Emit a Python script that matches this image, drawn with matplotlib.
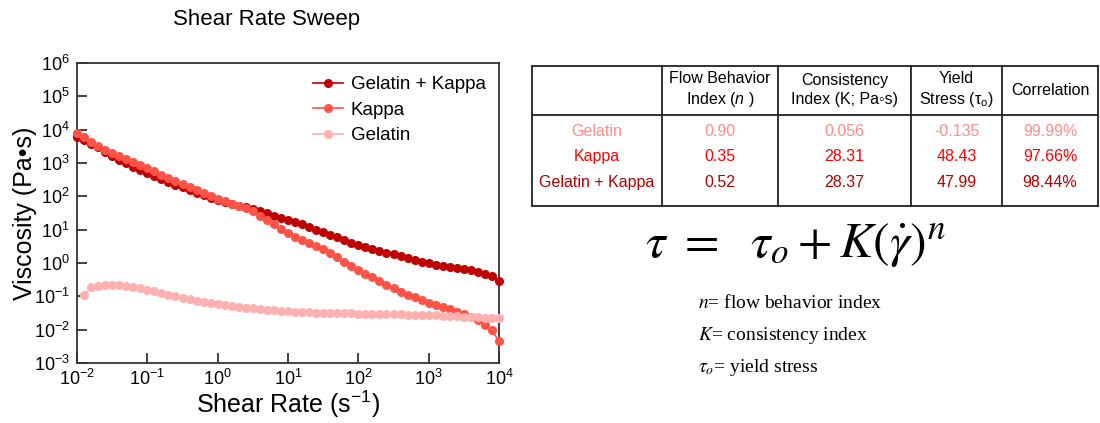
import numpy as np
import matplotlib
matplotlib.use("Agg")
import matplotlib.pyplot as plt

plt.rcParams["font.family"] = ["Liberation Sans", "DejaVu Sans"]
plt.rcParams["mathtext.fontset"] = "custom"
plt.rcParams["mathtext.rm"] = "Liberation Sans"
plt.rcParams["mathtext.it"] = "Liberation Sans:italic"

# shear rate grid: 10 points per decade, 1e-2 .. 1e4
shear_rate = np.logspace(-2, 4, 61)

# log10 viscosity (Pa*s)
log_gel_kappa = [3.78, 3.68, 3.58, 3.49, 3.34, 3.20, 3.09, 2.99, 2.89, 2.79,
                 2.69, 2.60, 2.51, 2.43, 2.35, 2.27, 2.19, 2.11, 2.03, 1.96,
                 1.89, 1.83, 1.77, 1.71, 1.67, 1.63, 1.55, 1.49, 1.42, 1.35,
                 1.29, 1.22, 1.16, 1.09, 1.00, 0.92, 0.85, 0.77, 0.69, 0.61,
                 0.54, 0.48, 0.42, 0.37, 0.31, 0.26, 0.20, 0.15, 0.09, 0.04,
                 -0.01, -0.05, -0.08, -0.11, -0.15, -0.19, -0.22, -0.27, -0.33, -0.40,
                 -0.53]
log_kappa = [3.90, 3.78, 3.63, 3.52, 3.40, 3.29, 3.20, 3.11, 3.02, 2.93,
             2.84, 2.75, 2.65, 2.56, 2.46, 2.37, 2.28, 2.18, 2.09, 2.00,
             1.91, 1.85, 1.78, 1.72, 1.64, 1.55, 1.42, 1.30, 1.16, 1.02,
             0.89, 0.79, 0.69, 0.59, 0.50, 0.41, 0.30, 0.19, 0.03, -0.10,
             -0.21, -0.32, -0.43, -0.55, -0.66, -0.76, -0.86, -0.95, -1.03, -1.12,
             -1.21, -1.26, -1.31, -1.39, -1.46, -1.54, -1.62, -1.72, -1.85, -2.02,
             -2.35]
log_gelatin = [np.nan, -0.96, -0.73, -0.69, -0.67, -0.66, -0.67, -0.69, -0.72, -0.76,
               -0.80, -0.85, -0.90, -0.95, -1.00, -1.05, -1.09, -1.13, -1.17, -1.20,
               -1.23, -1.26, -1.29, -1.31, -1.34, -1.36, -1.38, -1.40, -1.42, -1.43,
               -1.44, -1.46, -1.47, -1.48, -1.49, -1.49, -1.50, -1.50, -1.51, -1.51,
               -1.52, -1.52, -1.53, -1.53, -1.53, -1.54, -1.54, -1.55, -1.55, -1.56,
               -1.56, -1.57, -1.58, -1.59, -1.60, -1.61, -1.62, -1.63, -1.64, -1.65,
               -1.66]

series_names = ["Gelatin + Kappa", "Kappa", "Gelatin"]
series_colors = ["#C00000", "#FF5347", "#FFB0B0"]

# fit table
row_names = ["Gelatin", "Kappa", "Gelatin + Kappa"]
row_colors = ["#FF8C8C", "#FF0000", "#B00000"]
col_headers = ["", "Flow Behavior\nIndex ($\\it{n}$ )", "Consistency\nIndex (K; Pa◦s)",
               "Yield\nStress (τ$_\\mathregular{o}$)", "Correlation"]
flow_index = ["0.90", "0.35", "0.52"]
consistency = ["0.056", "28.31", "28.37"]
yield_stress = ["-0.135", "48.43", "47.99"]
correlation = ["99.99%", "97.66%", "98.44%"]

W, H = 1100, 423
fig = plt.figure(figsize=(W / 100, H / 100), dpi=100)

# ---- viscosity plot ----
ax = fig.add_axes([77 / W, 1 - 363 / H, (499 - 77) / W, (363 - 63) / H])
for logv, name, c in zip([log_gel_kappa, log_kappa, log_gelatin], series_names, series_colors):
    ax.plot(shear_rate, 10 ** np.array(logv), "-o", color=c, lw=1.2, ms=5.5,
            label=name, clip_on=False, zorder=3)

ax.set_xscale("log")
ax.set_yscale("log")
ax.set_xlim(1e-2, 1e4)
ax.set_ylim(1e-3, 1e6)
ax.set_xticks([10.0 ** k for k in range(-2, 5)])
ax.set_yticks([10.0 ** k for k in range(-3, 7)])
ax.minorticks_off()
for s in ["top", "right", "left", "bottom"]:
    ax.spines[s].set_linewidth(1.3)
    ax.spines[s].set_color("#333333")
ax.tick_params(direction="in", length=7, width=1.3, labelsize=13, color="#333333", pad=5)
ax.tick_params(axis="x", pad=4)
ax.set_xlabel("Shear Rate (s$^{-1}$)", fontsize=18, labelpad=0)
ax.set_ylabel("Viscosity (Pa•s)", fontsize=18, labelpad=-2)
ax.legend(loc="upper right", frameon=False, fontsize=13.5, handlelength=1.6,
          handletextpad=0.4, labelspacing=0.45, borderaxespad=0.3)

fig.text(267 / W, 1 - 20 / H, "Shear Rate Sweep", fontsize=16, ha="center", va="center")

# ---- table ----
tx = fig.add_axes([532 / W, 1 - 206 / H, (1098 - 532) / W, (206 - 66) / H])
tx.set_xlim(532, 1098)
tx.set_ylim(206, 66)
tx.axis("off")
col_edges = [532, 662, 778, 911, 1002, 1098]
lc = "#222222"
for xe in col_edges:
    tx.plot([xe, xe], [66, 206], color=lc, lw=1.3, clip_on=False)
for ye in [66, 115, 206]:
    tx.plot([532, 1098], [ye, ye], color=lc, lw=1.3, clip_on=False)

centers = [(a + b) / 2 for a, b in zip(col_edges[:-1], col_edges[1:])]
for xc, hdr in zip(centers[1:], col_headers[1:]):
    tx.text(xc, 90, hdr, ha="center", va="center", fontsize=11.5, linespacing=1.35)

row_y = [131, 156, 182]
for i, y in enumerate(row_y):
    vals = [row_names[i], flow_index[i], consistency[i], yield_stress[i], correlation[i]]
    for xc, v in zip(centers, vals):
        tx.text(xc, y, v, ha="center", va="center", fontsize=11.5, color=row_colors[i])

# ---- Herschel-Bulkley equation ----
fig.text(645 / W, 1 - 245 / H, r"$\tau\ =\ \ \tau_o + K(\dot{\gamma})^n$", fontsize=36,
         ha="left", va="center", math_fontfamily="stix")
desc = [r"$n$= flow behavior index", r"$K$= consistency index", r"$\tau_o$= yield stress"]
for k, line in enumerate(desc):
    fig.text(698 / W, 1 - (303 + 32 * k) / H, line, fontsize=14, ha="left", va="center",
             family="Liberation Serif", math_fontfamily="stix")

fig.savefig("out.png", dpi=100)
